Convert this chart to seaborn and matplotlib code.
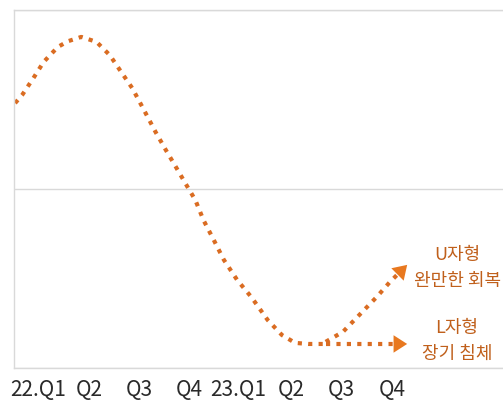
import matplotlib
matplotlib.use("Agg")
import matplotlib.pyplot as plt
import seaborn as sns
import numpy as np

# quarter labels along the bottom
quarter_labels = ["22.Q1", "Q2", "Q3", "Q4", "23.Q1", "Q2", "Q3", "Q4"]
quarter_pos = [0.0, 1.0, 1.98, 2.96, 3.92, 4.96, 5.94, 6.94]

# main cycle curve (boom -> slump)
cycle_x = [-0.46, -0.32, -0.10, 0.10, 0.38, 0.58, 0.84, 1.14, 1.40, 1.60, 1.84,
           2.04, 2.30, 2.50, 2.70, 2.88, 3.08, 3.24, 3.44, 3.64, 3.90, 4.18,
           4.50, 4.78, 5.04, 5.30, 5.64]
cycle_y = [74.0, 76.3, 81.0, 85.5, 89.7, 91.3, 92.5, 91.1, 87.4, 83.2, 78.2,
           72.9, 65.9, 60.9, 56.1, 51.7, 46.9, 41.3, 35.8, 30.2, 24.6, 19.8,
           13.4, 9.2, 7.0, 6.7, 6.7]

# scenario branches
u_x = [5.64, 5.98, 6.30, 6.64, 6.90, 7.24]
u_y = [7.3, 10.1, 14.8, 19.8, 24.0, 28.8]
l_x = [5.64, 7.24]
l_y = [6.7, 6.7]

scenario_names = ["U자형", "L자형"]
scenario_desc = ["완만한 회복", "장기 침체"]

LINE_COLOR = "#DA6C22"
TEXT_COLOR = "#C0601C"
DOTS = (0, (1, 1.5))


def draw_branch(ax, x, y):
    """Dotted line plus a filled arrow head at the end."""
    sns.lineplot(x=x, y=y, ax=ax, sort=False, estimator=None, color=LINE_COLOR,
                 lw=3.0, linestyle=DOTS)
    ax.annotate("", xy=(x[-1], y[-1]), xytext=(x[-2], y[-2]),
                arrowprops=dict(arrowstyle="-|>,head_length=0.7,head_width=0.45",
                                color="#E8781F", lw=0, shrinkA=0, shrinkB=0,
                                mutation_scale=14))


sns.set_style("white")
plt.rcParams["font.family"] = ["Noto Sans CJK KR", "DejaVu Sans"]

fig = plt.figure(figsize=(5.03, 4.03), dpi=100)
ax = fig.add_axes([0.028, 0.087, 0.99, 0.888])

sns.lineplot(x=cycle_x, y=cycle_y, ax=ax, sort=False, estimator=None,
             color=LINE_COLOR, lw=3.0, linestyle=DOTS)
draw_branch(ax, u_x, u_y)
draw_branch(ax, l_x, l_y)

# scenario notes, two lines each
for i, (name, desc) in enumerate(zip(scenario_names, scenario_desc)):
    top_y = [31.6, 11.2][i]
    ax.text(8.22, top_y, name, ha="center", va="center", fontsize=13,
            color=TEXT_COLOR, fontweight="medium")
    ax.text(8.22, top_y - 7.2, desc, ha="center", va="center", fontsize=13,
            color=TEXT_COLOR, fontweight="medium")

ax.set_xlim(-0.48, 9.3)
ax.set_ylim(0, 100)
ax.set_yticks([0, 50, 100])
ax.set_yticklabels([])
ax.yaxis.grid(True, color="#D9D9D9", lw=1)
ax.set_xticks(quarter_pos)
ax.set_xticklabels(quarter_labels, fontsize=15, color="#2A2A2A")
ax.tick_params(axis="both", length=0)
ax.tick_params(axis="x", pad=8)
for side in ["left", "bottom", "top"]:
    ax.spines[side].set_color("#D9D9D9")
    ax.spines[side].set_linewidth(1)
ax.spines["right"].set_visible(False)
ax.set_xlabel("")
ax.set_ylabel("")

fig.savefig("out.png", dpi=100)
